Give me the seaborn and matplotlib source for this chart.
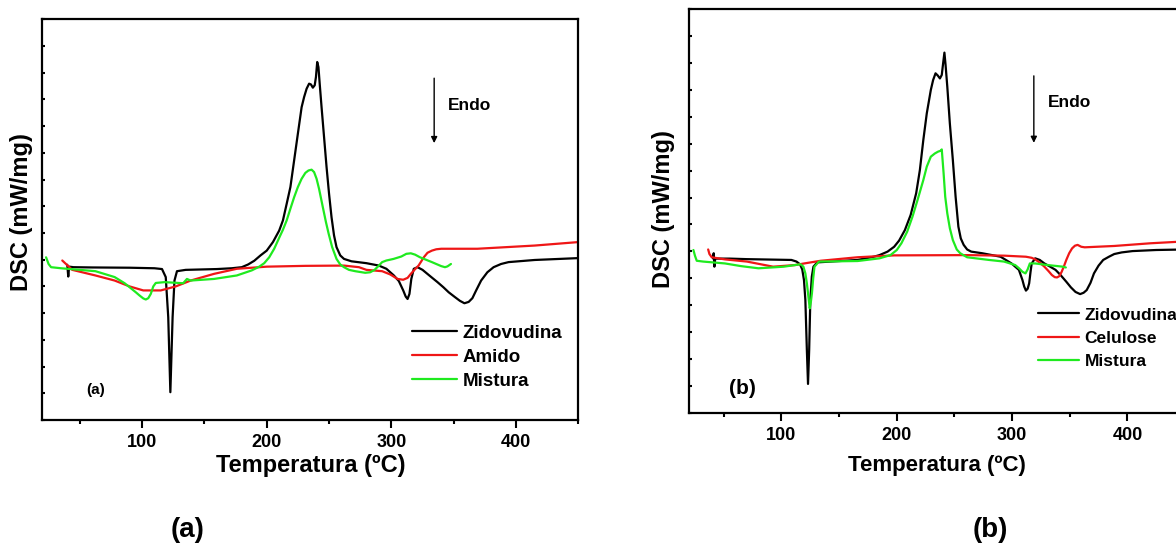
import numpy as np
import pandas as pd
import matplotlib
matplotlib.use("Agg")
import matplotlib.pyplot as plt
from matplotlib.ticker import MultipleLocator, NullFormatter
import seaborn as sns

# ---------------- (a) Zidovudina / Amido / Mistura ----------------
zid_a_T = [40, 40.8, 41.5, 45, 60, 90, 110, 116, 119, 121, 122.7, 124.5, 126, 128, 135,
           160, 172, 180, 185, 190, 195, 200, 205, 210, 213, 216, 219, 222, 225, 228,
           230, 232, 234, 235.5, 237, 238.5, 239.5, 240.5, 241.5, 242.5, 244, 246, 248,
           250, 252, 254, 256, 259, 262, 268, 280, 290, 296, 302, 306, 309.5, 311.5, 313,
           314.5, 316, 318, 321, 325, 332, 337, 341.7, 346, 351, 355, 358.6, 362, 365,
           368, 372, 377, 382, 388, 394, 415, 450]
zid_a_y = [5.81, 5.37, 5.74, 5.72, 5.71, 5.70, 5.68, 5.65, 5.35, 3.85, 1.04, 3.85, 5.22, 5.57, 5.62,
           5.65, 5.68, 5.72, 5.82, 5.96, 6.16, 6.34, 6.66, 7.09, 7.47, 8.09, 8.72, 9.72, 10.72, 11.71,
           12.09, 12.40, 12.59, 12.56, 12.44, 12.53, 12.84, 13.40, 13.21, 12.59, 11.71, 10.59, 9.47,
           8.47, 7.59, 6.91, 6.47, 6.16, 6.03, 5.94, 5.87, 5.78, 5.66, 5.41, 5.20, 4.85, 4.62, 4.53,
           4.72, 5.28, 5.66, 5.72, 5.62, 5.35, 5.16, 4.97, 4.78, 4.60, 4.46, 4.37, 4.42, 4.56,
           4.85, 5.22, 5.53, 5.72, 5.84, 5.91, 5.99, 6.06]

ami_a_T = [36, 44, 62.6, 78, 90, 101, 115, 127, 139, 157.7, 176, 200, 231, 262, 274, 280,
           292.6, 299, 305, 309.5, 313, 315.6, 318.5, 321.8, 324, 326, 329, 332.5, 336, 340,
           369, 415, 450]
ami_a_y = [5.97, 5.62, 5.41, 5.22, 5.00, 4.85, 4.85, 5.00, 5.22, 5.47, 5.66, 5.74, 5.77, 5.78, 5.72, 5.62,
           5.57, 5.45, 5.28, 5.25, 5.32, 5.47, 5.62, 5.78, 5.94, 6.09, 6.26, 6.34, 6.39, 6.41,
           6.41, 6.53, 6.66]

mis_a_T = [23, 25, 27, 35, 62.6, 78, 86, 90, 95, 98, 101, 103, 105, 107, 109, 111, 118, 133,
           136, 139, 157.7, 176, 188, 194, 198, 202, 206, 210, 213, 216, 219, 222, 225, 228,
           231, 233.5, 236, 238, 240, 242, 245, 247.5, 249.7, 252.5, 256, 259, 262, 266, 271,
           279, 283, 286.5, 290, 292.6, 296, 301.8, 308, 312, 315.6, 319, 323, 332.5, 340,
           343, 345, 347.8]
mis_a_y = [6.09, 5.84, 5.72, 5.68, 5.57, 5.35, 5.12, 4.97, 4.78, 4.66, 4.55, 4.51, 4.56, 4.72, 5.00, 5.13,
           5.16, 5.12, 5.28, 5.22, 5.28, 5.41, 5.60, 5.74, 5.87, 6.09, 6.41, 6.82, 7.12, 7.47, 7.91,
           8.34, 8.72, 9.03, 9.25, 9.34, 9.37, 9.28, 9.03, 8.65, 7.97, 7.41, 6.97, 6.47, 6.03, 5.82,
           5.72, 5.62, 5.57, 5.51, 5.53, 5.62, 5.78, 5.91, 5.97, 6.03, 6.12, 6.22, 6.24, 6.19, 6.09,
           5.91, 5.76, 5.72, 5.75, 5.84]

# ---------------- (b) Zidovudina / Celulose / Mistura ----------------
zid_b_T = [40.5, 41.2, 41.8, 42.5, 55, 70, 108.6, 113, 116, 118, 119.5, 120.7, 122, 123, 124,
           125, 126.3, 127.7, 131, 166, 180, 185, 192, 197.7, 202, 207, 212, 216.8, 220, 223,
           226, 229.5, 231.5, 233.6, 235.5, 237.4, 239, 240.2, 241.3, 242.3, 243.8, 246, 248.6,
           251, 253.4, 255.5, 258, 261, 264.5, 274, 290, 299.5, 305.9, 309, 310.5, 312, 313.5,
           314.8, 316, 317, 320, 324, 328, 333, 337.7, 342, 347, 351, 355, 359, 362, 364.7,
           368, 371, 375, 379, 384, 388.6, 395, 404.5, 425, 450]
zid_b_y = [5.74, 5.93, 5.43, 5.73, 5.73, 5.71, 5.68, 5.62, 5.52, 5.33, 4.93, 4.19, 2.33, 1.07, 2.33,
           4.19, 5.06, 5.43, 5.59, 5.68, 5.80, 5.86, 5.99, 6.17, 6.40, 6.79, 7.35, 8.16, 9.02, 10.14,
           11.13, 12.00, 12.37, 12.62, 12.54, 12.43, 12.56, 13.00, 13.39, 12.93, 12.12, 10.76, 9.40,
           8.03, 6.92, 6.48, 6.24, 6.07, 5.99, 5.93, 5.80, 5.55, 5.31, 4.93, 4.69, 4.54, 4.61,
           4.81, 5.24, 5.55, 5.74, 5.68, 5.55, 5.43, 5.31, 5.12, 4.87, 4.66, 4.49, 4.41, 4.46, 4.56,
           4.83, 5.18, 5.47, 5.68, 5.80, 5.90, 5.96, 6.01, 6.05, 6.07]

cel_b_T = [36.4, 37.5, 39.5, 51, 70, 92.7, 111.8, 119.7, 134, 166, 197.7, 261, 293, 312, 317,
           320, 324, 328, 331.5, 334.5, 337, 339, 341, 343, 345, 347, 349.5, 352, 354.5, 356.8,
           360, 363, 388.6, 420, 450]
cel_b_y = [6.07, 5.90, 5.78, 5.70, 5.62, 5.43, 5.49, 5.55, 5.65, 5.78, 5.85, 5.86, 5.84, 5.80, 5.76,
           5.70, 5.58, 5.43, 5.27, 5.12, 5.04, 5.03, 5.08, 5.24, 5.45, 5.68, 5.93, 6.11, 6.21, 6.24,
           6.17, 6.15, 6.20, 6.30, 6.37]

mis_b_T = [23.6, 25, 26.5, 32, 51, 65, 80, 95, 102, 116.5, 119, 120.7, 122, 123, 124.5, 125.5,
           126.4, 127.5, 128.6, 132.5, 166, 185, 194.5, 200, 204, 209, 213.6, 218, 223, 226,
           229.5, 233, 235.9, 238, 239, 240.6, 242, 243.8, 246, 248.6, 252, 255, 261, 280, 293,
           302.7, 306, 309, 311.6, 313.5, 315.4, 320, 331, 344, 346.6]
mis_b_y = [6.05, 5.83, 5.65, 5.62, 5.55, 5.45, 5.37, 5.41, 5.43, 5.52, 5.43, 5.18, 4.81, 4.44, 3.88, 4.13,
           4.44, 5.00, 5.43, 5.62, 5.64, 5.74, 5.86, 6.05, 6.30, 6.73, 7.29, 7.91, 8.65, 9.15,
           9.52, 9.64, 9.71, 9.74, 9.79, 8.90, 8.03, 7.41, 6.86, 6.42, 6.07, 5.93, 5.78, 5.68, 5.62,
           5.49, 5.37, 5.24, 5.18, 5.33, 5.55, 5.55, 5.49, 5.43, 5.40]

x_major = [100, 200, 300, 400]
x_label = "Temperatura (ºC)"
y_label = "DSC (mW/mg)"

BLACK, RED, GREEN = "#000000", "#ef1616", "#1fea1f"


def long_frame(series):
    frames = []
    for name, T, y in series:
        frames.append(pd.DataFrame({"T": T, "DSC": y, "Amostra": name}))
    return pd.concat(frames, ignore_index=True)


sns.set_style("ticks", rc={"axes.edgecolor": "black", "text.color": "black",
                           "xtick.color": "black", "ytick.color": "black",
                           "axes.labelcolor": "black"})
plt.rcParams["font.family"] = ["Liberation Sans", "DejaVu Sans"]
plt.rcParams["font.weight"] = "bold"

fig = plt.figure(figsize=(11.76, 5.48), dpi=100)
ax_a = fig.add_axes([0.0360, 0.2336, 0.4558, 0.7312])
ax_b = fig.add_axes([0.5861, 0.2469, 0.4216, 0.7361])


def draw_panel(ax, series, palette, cfg):
    df = long_frame(series)
    names = [s[0] for s in series]
    sns.lineplot(data=df, x="T", y="DSC", hue="Amostra", hue_order=names,
                 palette=palette, sort=False, estimator=None,
                 linewidth=1.6, ax=ax)
    ax.set_xlim(20, 450)
    ax.set_ylim(0, 15)
    ax.xaxis.set_minor_locator(MultipleLocator(50))
    ax.set_xticks(x_major)
    ax.set_xticklabels([str(v) for v in x_major], fontsize=13, fontweight="bold")
    ax.yaxis.set_major_locator(MultipleLocator(1))
    ax.yaxis.set_major_formatter(NullFormatter())
    ax.tick_params(axis="x", which="major", direction="out", length=6, width=1.5, pad=4,
                   top=False)
    ax.tick_params(axis="x", which="minor", direction="out", length=3, width=1.5, top=False)
    ax.tick_params(axis="y", which="major", direction="in", length=2.5, width=1.5, right=False)
    for sp in ax.spines.values():
        sp.set_linewidth(1.6)
        sp.set_visible(True)
    ax.set_xlabel(x_label, fontsize=cfg["xfs"], fontweight="bold")
    ax.set_ylabel(y_label, fontsize=17, fontweight="bold")
    ax.xaxis.set_label_coords(0.5, cfg["xl_y"])
    ax.xaxis.label.set_verticalalignment("top")
    ax.yaxis.set_label_coords(cfg["yl_x"], cfg["yl_y"])

    handles, labels = ax.get_legend_handles_labels()
    ax.legend(handles, labels, loc="center left",
              bbox_to_anchor=cfg["leg"], frameon=False,
              prop={"weight": "bold", "size": cfg["legfs"]},
              handlelength=2.4, handletextpad=0.3, labelspacing=cfg["legsp"],
              borderpad=0, borderaxespad=0)

    # direction of endothermic events
    ax.annotate("", xy=(cfg["arr_x"], cfg["arr_y1"]),
                xytext=(cfg["arr_x"], cfg["arr_y0"]),
                xycoords="axes fraction", textcoords="axes fraction",
                arrowprops=dict(arrowstyle="-|>", color="black", lw=1.0,
                                mutation_scale=9, shrinkA=0, shrinkB=0))
    ax.text(cfg["endo_x"], cfg["endo_y"], "Endo", transform=ax.transAxes,
            fontsize=12.5, fontweight="bold", ha="left", va="center")
    ax.text(cfg["tag_x"], cfg["tag_y"], cfg["tag"], transform=ax.transAxes,
            fontsize=cfg["tagfs"], fontweight="bold", ha="left", va="center")


draw_panel(ax_a,
           [("Zidovudina", zid_a_T, zid_a_y), ("Amido", ami_a_T, ami_a_y),
            ("Mistura", mis_a_T, mis_a_y)],
           {"Zidovudina": BLACK, "Amido": RED, "Mistura": GREEN},
           dict(xfs=17, xl_y=-0.085, yl_x=-0.018, yl_y=0.52,
                leg=(0.69, 0.157), legfs=13.5, legsp=0.36,
                arr_x=0.731, arr_y0=0.853, arr_y1=0.691,
                endo_x=0.757, endo_y=0.786,
                tag="(a)", tag_x=0.0815, tag_y=0.075, tagfs=11))

draw_panel(ax_b,
           [("Zidovudina", zid_b_T, zid_b_y), ("Celulose", cel_b_T, cel_b_y),
            ("Mistura", mis_b_T, mis_b_y)],
           {"Zidovudina": BLACK, "Celulose": RED, "Mistura": GREEN},
           dict(xfs=16, xl_y=-0.105, yl_x=-0.029, yl_y=0.506,
                leg=(0.703, 0.185), legfs=12.5, legsp=0.46,
                arr_x=0.695, arr_y0=0.835, arr_y1=0.669,
                endo_x=0.724, endo_y=0.770,
                tag="(b)", tag_x=0.080, tag_y=0.061, tagfs=15))

fig.text(188 / 1176, 1 - 530 / 548, "(a)", fontsize=20, fontweight="bold",
         ha="center", va="center")
fig.text(990 / 1176, 1 - 530 / 548, "(b)", fontsize=20, fontweight="bold",
         ha="center", va="center")

fig.savefig("out.png", dpi=100)
